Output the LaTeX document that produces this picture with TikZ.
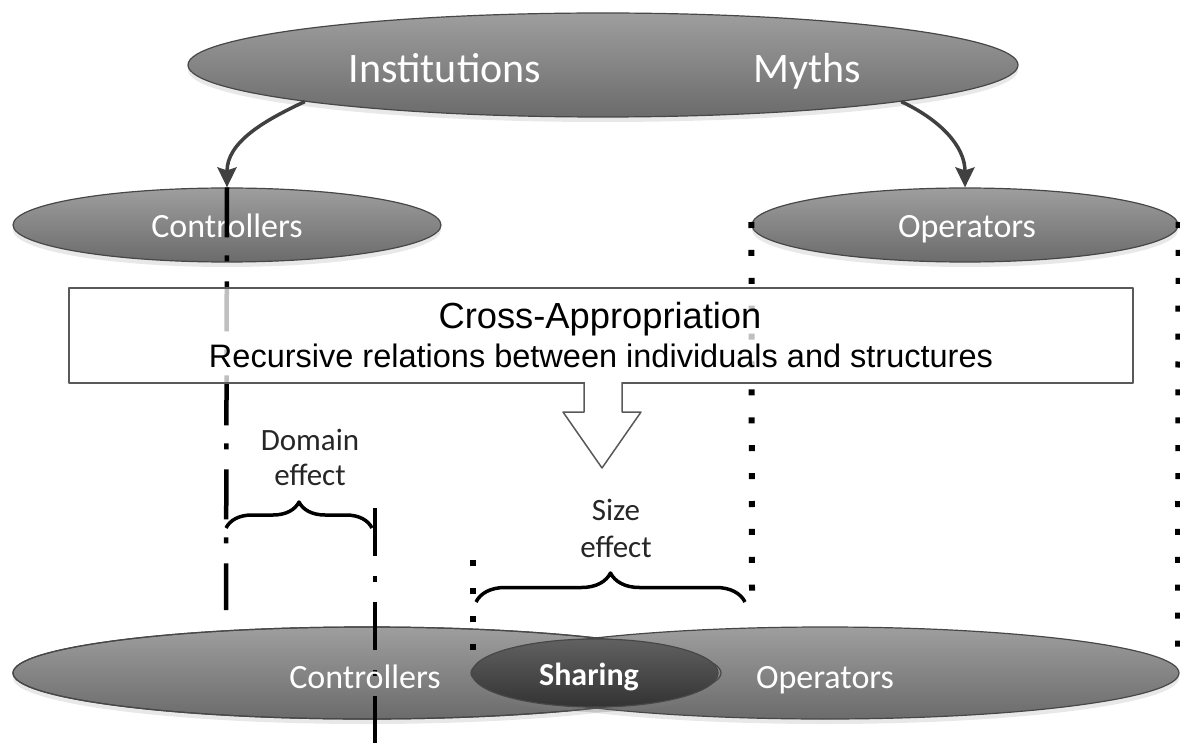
\documentclass[tikz,border=0pt]{standalone}
\usepackage{fontspec}
\setmainfont{Carlito}
\newfontfamily\arialfont{Liberation Sans}
\usetikzlibrary{shapes.geometric,shadows,decorations.pathreplacing,arrows.meta}

\tikzset{
	pill/.style={ellipse, draw=black!72, line width=1.2pt, top color=black!38, bottom color=black!58,
		inner sep=0pt, drop shadow={shadow xshift=0pt, shadow yshift=-5pt, opacity=0.18}},
	pilltext/.style={anchor=base, text=white, font=\fontsize{34}{40}\selectfont},
	efftext/.style={anchor=base, text=black!85, font=\fontsize{31}{36}\selectfont},
	dashdot/.style={line width=4.5pt, dash pattern=on 50pt off 18pt on 6pt off 20pt},
	dotline/.style={line width=6pt, dash pattern=on 6pt off 21.9pt},
	bracepath/.style={line width=3.5pt, decorate, decoration={brace, amplitude=#1}},
}

\begin{document}
\begin{tikzpicture}[x=1pt, y=1pt, >={Stealth[length=20pt,width=19pt,inset=3pt]}, line join=round]
	\useasboundingbox (0,0) rectangle (1180,-743);
	% top level
	\node[pill, minimum width=830, minimum height=104] (inst) at (603,-65) {};
	\node[pilltext, font=\fontsize{42}{48}\selectfont] (insttxt) at (445,-83) {Institutions};
	\node[pilltext, font=\fontsize{42}{48}\selectfont] (myths) at (807,-83) {Myths};
	\node[pill, minimum width=428, minimum height=74] (ctrl) at (227,-225) {};
	\node[pill, minimum width=426, minimum height=74] (oper) at (965,-225) {};
	\node[pilltext] (ctrlt) at (227,-238) {Controllers};
	\node[pilltext] (opert) at (967,-238) {Operators};
	\draw[->, line width=3.5pt, black!75] (inst.187) to[out=205, in=90] (ctrl.north);
	\draw[->, line width=3.5pt, black!75] (inst.353) to[out=-25, in=90] (oper.north);

	% bottom level
	\node[pill, minimum width=708, minimum height=92] (ctrlb) at (367,-673) {};
	\node[pill, minimum width=708, minimum height=92] (operb) at (825,-673) {};
	\draw[black!72, line width=1.2pt] (ctrlb.center) ellipse [x radius=354, y radius=46];
	\node[pill, top color=black!62, bottom color=black!80, minimum width=246, minimum height=68] (share) at (595,-673) {};

	% dash-dot and dotted guides
	\coordinate (dd1) at (226,-610);
	\coordinate (dd2a) at (375,-508);
	\coordinate (dd2b) at (375,-743);
	\draw[dashdot] (ctrl.north) -- (dd1);
	\draw[dashdot, dash pattern=on 48pt off 20pt on 6pt off 20pt] (dd2a) -- (dd2b);
	\coordinate (d1) at (473,-560);
	\coordinate (d1e) at (473,-652);
	\coordinate (d2e) at (752,-594);
	\coordinate (d3e) at (1178,-652);
	\draw[dotline] (d1) -- (d1e);
	\draw[dotline] ([yshift=3pt]oper.west) -- (d2e);
	\draw[dotline] ([yshift=3pt]oper.east) -- (d3e);

	% cross-appropriation box
	\node[draw=black!65, line width=1.5pt, fill=white, fill opacity=0.75, text opacity=1,
		minimum width=1064, minimum height=95, inner sep=0pt] (cross) at (601,-335.5) {};
	\node[anchor=base, font=\arialfont\fontsize{36.3}{42}\selectfont] (crosst) at (600,-328) {Cross-Appropriation};
	\node[anchor=base, font=\arialfont\fontsize{32.5}{38}\selectfont] (crossr) at (601,-367) {Recursive relations between individuals and structures};
	\filldraw[fill=white, draw=black!65, line width=1.5pt] (584,-382) -- (584,-412) -- (563,-412) -- (602,-468)
		-- (641,-412) -- (622,-412) -- (622,-382);

	% effects
	\node[efftext] (domain) at (310,-450) {Domain};
	\node[efftext] (domaine) at (310,-485) {effect};
	\node[efftext] (size) at (616,-520) {Size};
	\node[efftext] (sizee) at (616,-557) {effect};
	\draw[bracepath=26pt] (226,-528) -- (372,-528);
	\draw[bracepath=29pt] (476,-602) -- (745,-602);

	% bottom labels
	\node[pilltext] (ctrlbt) at (365,-688) {Controllers};
	\node[pilltext] (operbt) at (825,-688) {Operators};
	\node[pilltext, font=\bfseries\fontsize{32}{38}\selectfont] (sharet) at (589,-685) {Sharing};
\end{tikzpicture}
\end{document}
